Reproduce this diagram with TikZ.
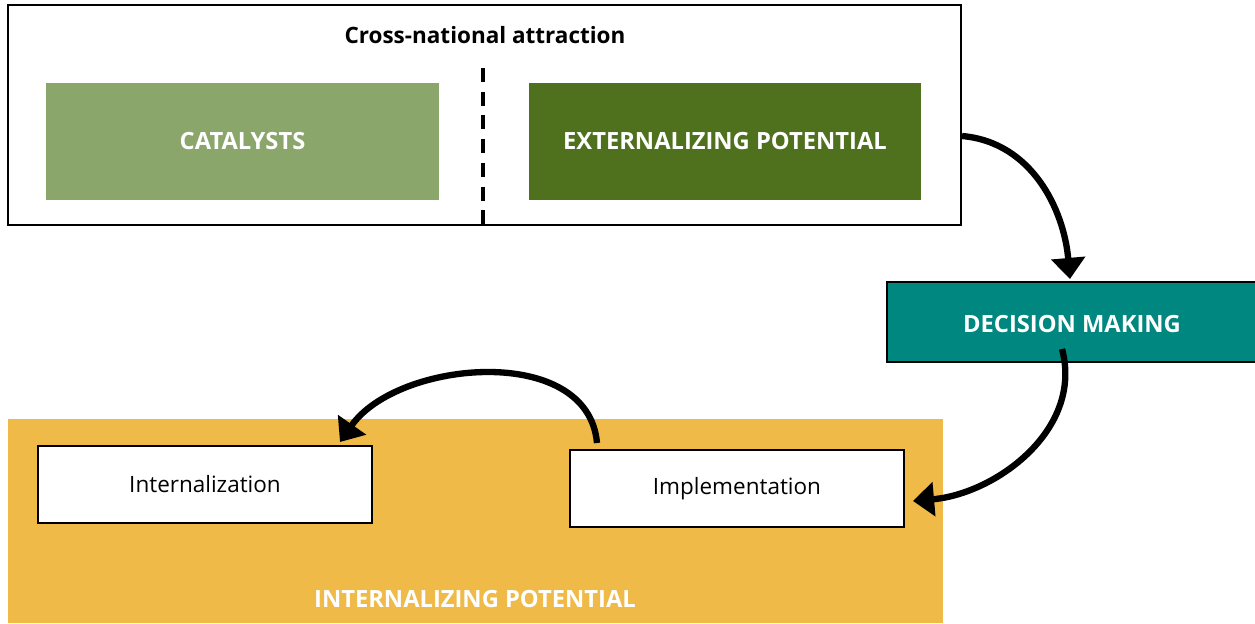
\documentclass[tikz,border=0pt]{standalone}
\usepackage{fontspec}
\setmainfont{Open Sans}
\usetikzlibrary{arrows.meta}
\definecolor{catgreen}{RGB}{139,166,106}
\definecolor{extgreen}{RGB}{79,113,29}
\definecolor{decteal}{RGB}{0,135,128}
\definecolor{intgold}{RGB}{239,186,71}
\begin{document}
\begin{tikzpicture}[x=0.02cm,y=-0.02cm,
    fillbox/.style={inner sep=0pt,text=white,font=\bfseries\fontsize{13.5}{15}\selectfont},
    stagebox/.style={draw=black,line width=1.3pt,fill=white,inner sep=0pt,
      minimum width=6.68cm,minimum height=1.54cm,font=\fontsize{12.8}{14}\selectfont},
    bigarrow/.style={line width=3.6pt,-{Triangle[length=12pt,width=19pt]}}]
  \useasboundingbox (0,0) rectangle (1255,623);
  % top frame
  \node[draw,line width=1.3pt,inner sep=0pt,minimum width=19.06cm,minimum height=4.4cm]
    (attr) at (484.5,115) {};
  \node[font=\bfseries\fontsize{12.8}{14}\selectfont] (title) at (485,35) {Cross-national attraction};
  \node[fillbox,fill=catgreen,minimum width=7.86cm,minimum height=2.34cm] (cat) at (242.5,141.5) {CATALYSTS};
  \node[fillbox,fill=extgreen,minimum width=7.84cm,minimum height=2.34cm] (ext) at (725,141.5) {EXTERNALIZING POTENTIAL};
  \coordinate (dtop) at (483,68);
  \coordinate (dbot) at (483,224);
  \draw[line width=2.4pt,dash pattern=on 8pt off 5.5pt] (dtop) -- (dbot);
  % decision
  \node[fillbox,draw=black,line width=1.3pt,fill=decteal,minimum width=7.4cm,minimum height=1.6cm]
    (dec) at (1072,322) {};
  \node[fillbox] (declabel) at (1072,324) {DECISION MAKING};
  % internalizing area
  \node[fill=intgold,inner sep=0pt,minimum width=18.7cm,minimum height=4.08cm] (intpot) at (475.5,521) {};
  \node[fillbox] (intlabel) at (475,599) {INTERNALIZING POTENTIAL};
  \node[stagebox] (intern) at (205,484.5) {Internalization};
  \node[stagebox] (impl) at (737,488.5) {Implementation};
  % connectors
  \coordinate (a1s) at (attr.east |- 0,136);
  \coordinate (a1e) at (1070,279);
  \coordinate (a2s) at (1062,349);
  \coordinate (a2e) at (913,501);
  \coordinate (a3s) at (597,443);
  \coordinate (a3e) at (340,442);
  \draw[bigarrow] (a1s) to[out=-5,in=95] (a1e);
  \draw[bigarrow] (a2s) to[out=-75,in=5] (a2e);
  \draw[bigarrow] (a3s) to[out=95,in=55] (a3e);
\end{tikzpicture}
\end{document}
